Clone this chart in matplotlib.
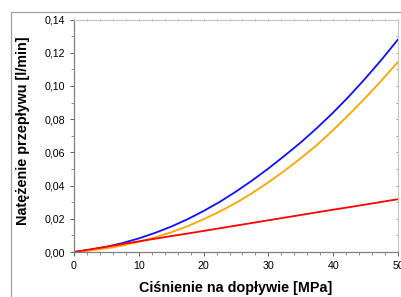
import matplotlib.pyplot as plt
from matplotlib.ticker import MultipleLocator, FuncFormatter
from matplotlib.patches import Rectangle

plt.rcParams['font.family'] = ['Liberation Sans', 'DejaVu Sans']

# pressure at inlet [MPa]
pressure = [0, 2.5, 5, 7.5, 10, 12.5, 15, 17.5, 20, 22.5, 25,
            27.5, 30, 32.5, 35, 37.5, 40, 42.5, 45, 47.5, 50]
# flow rate [l/min]
flow_blue = [0, 0.0013, 0.0031, 0.0054, 0.0082, 0.0115, 0.0153, 0.0197, 0.0247, 0.0302, 0.0364,
             0.0431, 0.0503, 0.0580, 0.0660, 0.0747, 0.0840, 0.0940, 0.1047, 0.1160, 0.1280]
flow_orange = [0, 0.0009, 0.0022, 0.0039, 0.0062, 0.0088, 0.0119, 0.0155, 0.0197, 0.0244, 0.0296,
               0.0355, 0.0420, 0.0490, 0.0565, 0.0645, 0.0735, 0.0830, 0.0930, 0.1035, 0.1145]
flow_red = [0, 0.0016, 0.0032, 0.0048, 0.0064, 0.0080, 0.0096, 0.0111, 0.0127, 0.0143, 0.0159,
            0.0175, 0.0191, 0.0207, 0.0223, 0.0239, 0.0255, 0.0270, 0.0286, 0.0302, 0.0318]

fig = plt.figure(figsize=(4.01, 2.97), dpi=100)
# grey frame around the picture (cut off on right and bottom)
fig.patches.append(Rectangle((11 / 401, -0.2), 1.2, 0.2 + 1 - 12 / 297,
                             transform=fig.transFigure, fill=False,
                             edgecolor='#a0a0a0', linewidth=0.9))

ax = fig.add_axes([74 / 401, 1 - 252 / 297, 324 / 401, 232.5 / 297])

ax.plot(pressure, flow_blue, color='#1010ff', lw=1.3)
ax.plot(pressure, flow_orange, color='#ffa500', lw=1.3)
ax.plot(pressure, flow_red, color='#ff0000', lw=1.3)

ax.set_xlim(0, 50)
ax.set_ylim(0, 0.14)
ax.xaxis.set_major_locator(MultipleLocator(10))
ax.xaxis.set_minor_locator(MultipleLocator(2))
ax.yaxis.set_major_locator(MultipleLocator(0.02))
ax.yaxis.set_minor_locator(MultipleLocator(0.01))
ax.yaxis.set_major_formatter(FuncFormatter(lambda v, p: f'{v:.2f}'.replace('.', ',')))

for s in ['left', 'bottom']:
    ax.spines[s].set_color('#808080')
    ax.spines[s].set_linewidth(0.9)
for s in ['top', 'right']:
    ax.spines[s].set_color('#c8c8c8')
    ax.spines[s].set_linewidth(0.9)

ax.tick_params(which='major', direction='out', length=3, width=0.7, color='#606060',
               labelsize=7.7, pad=3.5)
ax.tick_params(which='minor', direction='out', length=2, width=0.6, color='#808080')

top = ax.secondary_xaxis('top')
top.xaxis.set_major_locator(MultipleLocator(10))
top.xaxis.set_minor_locator(MultipleLocator(2))
top.tick_params(which='both', direction='in', length=1.5, width=0.6, color='#909090',
                labeltop=False)
top.spines['top'].set_visible(False)
right = ax.secondary_yaxis('right')
right.yaxis.set_major_locator(MultipleLocator(0.02))
right.yaxis.set_minor_locator(MultipleLocator(0.01))
right.tick_params(which='both', direction='in', length=1.5, width=0.6, color='#909090',
                  labelright=False)
right.spines['right'].set_visible(False)

ax.set_xlabel('Ciśnienie na dopływie [MPa]', fontsize=10.4, fontweight='bold', labelpad=7)
ax.set_ylabel('Natężenie przepływu [l/min]', fontsize=10.4, fontweight='bold')
ax.yaxis.set_label_coords(-0.135, 0.523)

fig.savefig('out.png', dpi=100)
